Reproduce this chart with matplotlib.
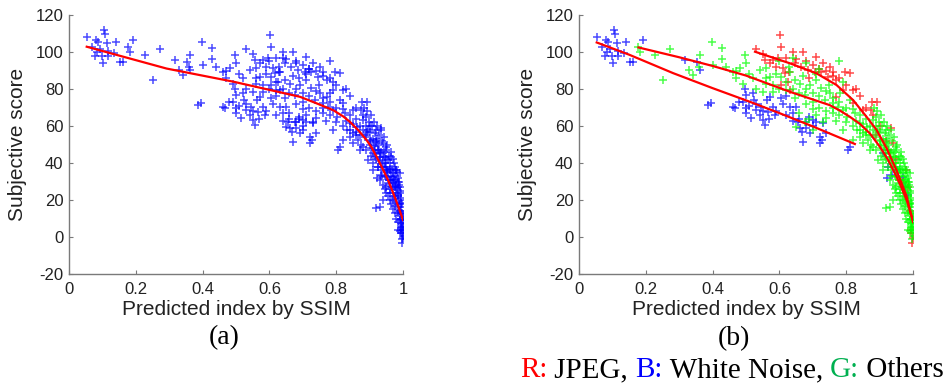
import numpy as np
import matplotlib
matplotlib.use("Agg")
import matplotlib.pyplot as plt

plt.rcParams["axes.unicode_minus"] = False

# scatter data: (predicted SSIM index, subjective score)
wn_pts = [
    (0.053, 108.3), (0.081, 106.8), (0.105, 111.9), (0.108, 110.0), (0.088, 105.6),
    (0.113, 105.0), (0.141, 105.6), (0.093, 101.4), (0.078, 97.8), (0.098, 97.8),
    (0.118, 97.8), (0.135, 99.6), (0.103, 94.2), (0.152, 94.7), (0.162, 94.7),
    (0.068, 102.9), (0.118, 100.7), (0.083, 100.1), (0.192, 106.5),
    (0.317, 95.7), (0.352, 94.8), (0.362, 90.3), (0.387, 71.4), (0.395, 72.3),
    (0.462, 70.5), (0.467, 69.5), (0.496, 79.8), (0.500, 76.8), (0.491, 73.2),
    (0.521, 78.0), (0.523, 74.0), (0.531, 68.6), (0.541, 66.0), (0.500, 66.8),
    (0.516, 64.1), (0.551, 63.2), (0.556, 60.5), (0.546, 70.5), (0.563, 74.0),
    (0.571, 75.9), (0.581, 70.5), (0.586, 66.0), (0.566, 67.7), (0.606, 75.0),
    (0.631, 70.5), (0.641, 66.8), (0.649, 70.5), (0.656, 62.3), (0.661, 58.7),
    (0.667, 57.0), (0.681, 58.7), (0.691, 56.0), (0.671, 51.5), (0.701, 63.2),
    (0.711, 62.3), (0.721, 54.2), (0.723, 50.6), (0.731, 61.4), (0.806, 47.0),
    (0.811, 48.8), (0.727, 52.5),
    (0.510, 71.0), (0.530, 72.0), (0.550, 68.0), (0.570, 64.0), (0.590, 68.0),
    (0.610, 72.0), (0.620, 66.0), (0.640, 63.0), (0.680, 62.0), (0.700, 60.0),
    (0.690, 65.0), (0.660, 64.0), (0.740, 56.0), (0.620, 76.0), (0.500, 70.0),
    (0.480, 73.0),
    (0.911, 45.2), (0.926, 37.9), (0.936, 33.5), (0.951, 36.2), (0.971, 32.4),
    (0.921, 31.7), (0.976, 27.2), (0.986, 22.7),
]

jpeg_pts = [
    (0.601, 109.2), (0.531, 101.4), (0.606, 102.9), (0.581, 95.7), (0.571, 93.9),
    (0.596, 96.6), (0.611, 91.2), (0.618, 88.5), (0.641, 100.2), (0.671, 100.2),
    (0.646, 93.9), (0.666, 92.1), (0.685, 90.3), (0.711, 97.5), (0.731, 93.9),
    (0.706, 89.4), (0.726, 89.4), (0.751, 92.1), (0.761, 89.4), (0.746, 86.7),
    (0.771, 84.9), (0.796, 89.4), (0.811, 88.5), (0.821, 79.5), (0.791, 79.5),
    (0.878, 73.2), (0.893, 73.2), (0.873, 68.6), (0.850, 68.6), (0.935, 58.7),
    (0.940, 50.6), (0.980, 36.2), (0.995, 2.0), (1.000, -0.7), (0.995, 3.8),
    (0.556, 95.7), (0.626, 84.0), (0.631, 79.5), (0.606, 82.1), (0.771, 75.9),
    (0.820, 72.3), (0.998, -3.0), (0.985, 27.0), (0.960, 31.0), (0.925, 47.0),
    (0.890, 55.0),
    (0.620, 97.0), (0.650, 96.0), (0.680, 95.0), (0.700, 93.0), (0.720, 91.0),
    (0.740, 90.0), (0.760, 87.0), (0.780, 86.0), (0.800, 82.0), (0.840, 76.0),
    (0.860, 70.0), (0.880, 66.0), (0.590, 92.0), (0.550, 99.0), (0.630, 89.0),
    (0.690, 86.0), (0.830, 80.0), (0.900, 60.0), (0.920, 52.0), (0.950, 42.0),
    (0.970, 30.0), (0.990, 14.0),
]

others_pts = [
    (0.177, 102.9), (0.182, 100.2), (0.227, 98.4), (0.272, 101.4), (0.252, 84.9),
    (0.328, 90.3), (0.342, 87.6), (0.362, 98.4), (0.397, 105.6), (0.427, 102.0),
    (0.427, 96.0), (0.462, 89.4), (0.481, 91.2), (0.496, 98.4), (0.501, 93.9),
    (0.471, 86.2), (0.491, 83.0), (0.521, 85.8), (0.541, 90.3), (0.561, 91.2),
    (0.571, 86.7), (0.561, 83.0), (0.551, 78.6), (0.581, 78.6), (0.606, 86.7),
    (0.631, 89.4), (0.646, 85.0), (0.661, 83.0), (0.621, 79.5), (0.646, 75.0),
    (0.676, 76.8), (0.691, 82.2), (0.711, 84.9), (0.726, 80.4), (0.701, 73.2),
    (0.736, 74.0), (0.751, 77.7), (0.761, 72.3), (0.781, 77.7), (0.776, 70.5),
    (0.791, 68.6), (0.761, 66.8), (0.741, 64.1), (0.711, 66.0), (0.676, 62.3),
    (0.651, 59.6), (0.701, 57.8), (0.801, 65.0), (0.811, 74.0), (0.826, 66.8),
    (0.841, 61.4), (0.831, 57.8), (0.851, 56.0), (0.861, 59.6), (0.866, 52.4),
    (0.881, 63.2), (0.891, 56.9), (0.900, 52.4), (0.881, 48.8), (0.905, 47.9),
    (0.915, 56.0), (0.920, 50.6), (0.930, 45.2), (0.915, 43.4), (0.940, 43.4),
    (0.950, 48.8), (0.945, 38.0), (0.955, 41.6), (0.960, 36.2), (0.935, 36.2),
    (0.950, 32.6), (0.965, 30.8), (0.970, 34.4), (0.975, 27.2), (0.985, 29.9),
    (0.980, 23.6), (0.990, 20.0), (0.970, 20.0), (0.985, 16.4), (0.995, 12.8),
    (0.975, 12.8), (0.990, 9.2), (0.998, 5.6), (0.985, 3.8), (0.995, 7.4),
    (0.920, 15.5), (0.930, 16.4), (0.940, 20.0), (0.960, 23.6), (0.995, 18.2),
    (1.000, 11.0), (0.950, 27.2), (0.930, 30.8), (0.965, 43.4), (0.975, 38.0),
    (0.990, 34.4), (0.990, 27.2), (0.910, 36.2), (0.895, 41.6), (0.870, 47.0),
    (0.850, 50.6), (0.820, 52.4), (0.841, 54.2),
    (0.860, 55.0), (0.870, 60.0), (0.875, 50.0), (0.885, 54.0), (0.890, 47.0),
    (0.895, 58.0), (0.900, 50.0), (0.905, 44.0), (0.910, 53.0), (0.910, 40.0),
    (0.915, 47.0), (0.920, 42.0), (0.925, 38.0), (0.925, 50.0), (0.930, 41.0),
    (0.935, 33.0), (0.935, 46.0), (0.940, 38.0), (0.940, 28.0), (0.945, 43.0),
    (0.945, 33.0), (0.950, 38.0), (0.950, 24.0), (0.955, 35.0), (0.955, 29.0),
    (0.960, 40.0), (0.960, 26.0), (0.965, 33.0), (0.965, 18.0), (0.970, 29.0),
    (0.970, 24.0), (0.975, 33.0), (0.975, 17.0), (0.980, 28.0), (0.980, 10.0),
    (0.985, 22.0), (0.985, 8.0), (0.990, 25.0), (0.990, 14.0), (0.990, 3.0),
    (0.995, 16.0), (0.995, 10.0), (0.998, 2.0), (1.000, 6.0), (0.997, 13.0),
    (0.993, 21.0), (0.988, 30.0), (0.983, 35.0), (0.978, 31.0), (0.968, 37.0),
    (0.958, 44.0), (0.948, 47.0), (0.938, 52.0), (0.928, 55.0), (0.918, 58.0),
    (0.908, 60.0), (0.898, 62.0), (0.888, 65.0),
    (0.580, 82.0), (0.600, 80.0), (0.620, 84.0), (0.640, 80.0), (0.660, 78.0),
    (0.680, 80.0), (0.700, 78.0), (0.720, 76.0), (0.740, 79.0), (0.760, 75.0),
    (0.780, 73.0), (0.800, 70.0), (0.820, 69.0), (0.840, 66.0), (0.860, 64.0),
    (0.680, 72.0), (0.700, 69.0), (0.720, 70.0), (0.740, 68.0), (0.760, 70.0),
    (0.780, 66.0), (0.800, 62.0), (0.820, 60.0), (0.840, 58.0), (0.860, 57.0),
    (0.880, 58.0), (0.660, 67.0), (0.690, 64.0), (0.730, 62.0), (0.770, 63.0),
    (0.790, 58.0), (0.830, 63.0), (0.850, 61.0), (0.870, 55.0), (0.890, 60.0),
    (0.750, 82.0), (0.790, 84.0), (0.710, 88.0), (0.670, 87.0), (0.630, 92.0),
    (0.590, 88.0), (0.560, 86.0), (0.530, 80.0), (0.510, 88.0), (0.470, 90.0),
    (0.440, 92.0), (0.400, 93.0), (0.360, 92.0), (0.600, 95.0), (0.640, 97.0),
    (0.680, 94.0), (0.720, 91.0), (0.780, 95.0),
    (0.900, 57.0), (0.905, 52.0), (0.912, 49.0), (0.918, 45.0), (0.922, 53.0),
    (0.928, 47.0), (0.932, 43.0), (0.938, 40.0), (0.942, 46.0), (0.947, 40.0),
    (0.952, 35.0), (0.957, 31.0), (0.962, 37.0), (0.967, 27.0), (0.972, 31.0),
    (0.977, 22.0), (0.982, 26.0), (0.987, 18.0), (0.992, 12.0), (0.996, 7.0),
    (0.999, 4.0), (0.999, 9.0), (0.997, 18.0), (0.994, 24.0), (0.989, 28.0),
    (0.984, 32.0), (0.979, 36.0), (0.974, 40.0), (0.969, 42.0), (0.963, 46.0),
    (0.953, 50.0), (0.943, 54.0), (0.933, 58.0), (0.923, 60.0), (0.913, 62.0),
    (0.903, 66.0), (0.893, 68.0), (0.883, 70.0), (0.975, 21.0), (0.985, 13.0),
    (0.993, 5.0), (0.980, 19.0), (0.970, 15.0), (0.960, 20.0), (0.955, 22.0),
    (0.945, 26.0), (0.999, 0.5), (0.996, -1.0),
]

# fitted curves
fit_all = [(0.053, 102.9), (0.292, 91.1), (0.492, 84.0), (0.692, 75.8), (0.741, 72.3),
           (0.791, 68.6), (0.821, 65.2), (0.841, 62.3), (0.866, 57.8), (0.891, 52.4),
           (0.906, 48.5), (0.921, 43.4), (0.941, 36.2), (0.956, 30.5), (0.971, 23.6),
           (0.986, 16.5), (1.0, 9.2)]
fit_wn = [(0.053, 105.2), (0.15, 98.6), (0.282, 88.6), (0.4, 80.5), (0.512, 73.1),
          (0.6, 67.0), (0.7, 59.8), (0.826, 50.3)]
fit_others = [(0.178, 102.5), (0.3, 97.2), (0.4, 92.5), (0.5, 87.3), (0.632, 78.5),
              (0.751, 71.3), (0.781, 68.4), (0.811, 65.0), (0.841, 61.2), (0.871, 56.0),
              (0.901, 48.8), (0.926, 41.5), (0.951, 32.6), (0.966, 26.5), (0.981, 20.0),
              (1.0, 9.0)]
fit_jpeg = [(0.527, 100.2), (0.632, 93.9), (0.711, 88.5), (0.771, 82.2), (0.821, 74.0),
            (0.861, 65.0), (0.891, 57.9), (0.921, 48.0), (0.951, 36.0), (0.981, 22.0),
            (1.0, 8.0)]

xticks = [0, 0.2, 0.4, 0.6, 0.8, 1]
xticklabels = ["0", "0.2", "0.4", "0.6", "0.8", "1"]
yticks = [-20, 0, 20, 40, 60, 80, 100, 120]

wn = np.array(wn_pts)
jp = np.array(jpeg_pts)
ot = np.array(others_pts)
allpts = np.vstack([wn, jp, ot])

fig = plt.figure(figsize=(9.52, 3.87), dpi=100)
ax_a = fig.add_axes([0.0725, 0.292, 0.3508, 0.669])
ax_b = fig.add_axes([0.6082, 0.292, 0.3508, 0.669])

mk = dict(marker="+", linestyle="none", markersize=6, markeredgewidth=1.1, alpha=0.7)

ax_a.plot(allpts[:, 0], allpts[:, 1], color="#0000ff", **mk)
f = np.array(fit_all)
ax_a.plot(f[:, 0], f[:, 1], color="#ff0000", lw=1.6)

ax_b.plot(wn[:, 0], wn[:, 1], color="#0000ff", **mk)
ax_b.plot(jp[:, 0], jp[:, 1], color="#ff0000", **mk)
ax_b.plot(ot[:, 0], ot[:, 1], color="#00ff00", **mk)
for fit in (fit_wn, fit_others, fit_jpeg):
    f = np.array(fit)
    ax_b.plot(f[:, 0], f[:, 1], color="#ff0000", lw=1.6)

for ax in (ax_a, ax_b):
    ax.set_xlim(0, 1)
    ax.set_ylim(-20, 120)
    ax.set_xticks(xticks)
    ax.set_xticklabels(xticklabels)
    ax.set_yticks(yticks)
    ax.spines["top"].set_visible(False)
    ax.spines["right"].set_visible(False)
    for s in ("left", "bottom"):
        ax.spines[s].set_color("#7a7a7a")
        ax.spines[s].set_linewidth(1.0)
    ax.tick_params(direction="in", length=3, color="#7a7a7a", labelsize=12,
                   labelcolor="#222222", pad=4)
    ax.tick_params(axis="x", pad=6)
    ax.set_xlabel("Predicted index by SSIM", fontsize=15, family="Liberation Sans",
                  color="#222222", labelpad=2)
    ax.set_ylabel("Subjective score", fontsize=15, family="Liberation Sans",
                  color="#222222", labelpad=6)
    for lab in ax.get_xticklabels() + ax.get_yticklabels():
        lab.set_family("Liberation Sans")

fig.text(224 / 952, 1 - 338 / 387, "(a)", ha="center", va="center",
         fontsize=20, family="Liberation Serif")
fig.text(734 / 952, 1 - 339 / 387, "(b)", ha="center", va="center",
         fontsize=20, family="Liberation Serif")

# caption with coloured keys, placed piece by piece
parts = [("R:", "#ff0000"), (" JPEG, ", "black"), ("B:", "#0000ff"),
         (" White Noise, ", "black"), ("G:", "#00b050"), (" Others", "black")]
fig.canvas.draw()
renderer = fig.canvas.get_renderer()
xpos = 520 / 952
for txt, col in parts:
    t = fig.text(xpos, 1 - 370 / 387, txt, ha="left", va="center", color=col,
                 fontsize=21, family="Liberation Serif")
    bb = t.get_window_extent(renderer=renderer)
    xpos += bb.width / fig.bbox.width

fig.savefig("out.png", dpi=100)
